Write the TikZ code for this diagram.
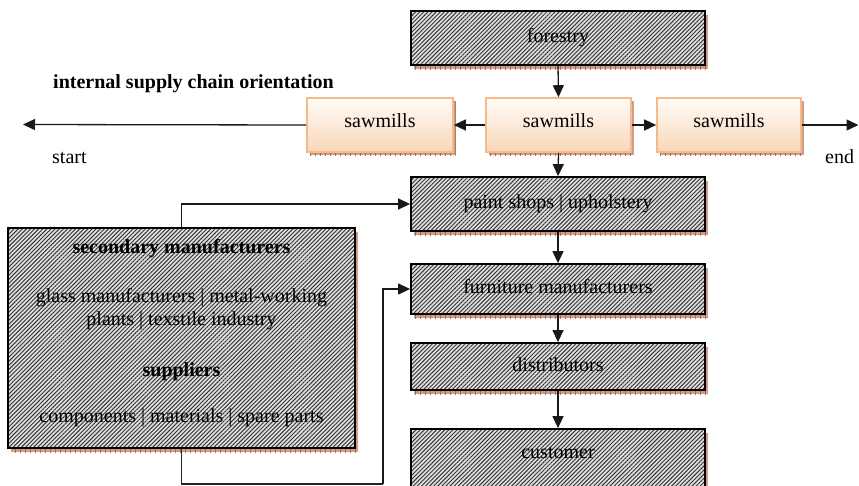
\documentclass[tikz,border=0pt]{standalone}
\usepackage{fontspec}
\setmainfont{Liberation Serif}
\usetikzlibrary{arrows.meta,patterns.meta}

\definecolor{shadowbrown}{RGB}{208,156,136}
\definecolor{tickbrown}{RGB}{165,105,90}
\definecolor{peachtop}{RGB}{255,252,248}
\definecolor{peachbot}{RGB}{249,214,186}
\definecolor{peachline}{RGB}{245,185,138}
\definecolor{hatchbg}{RGB}{224,224,224}

\tikzset{
  txt/.style={font=\fontsize{20}{24}\selectfont},
  boxshadow/.style={
    preaction={fill=shadowbrown, transform canvas={shift={(#1)}}},
    preaction={pattern={Lines[angle=90,distance=5pt,line width=0.6pt]},
               pattern color=tickbrown, transform canvas={shift={(#1)}}}},
  % text height is fixed; each box sets the depth that places its baseline
  hatchbox/.style={draw=black, line width=1.8pt, inner sep=0pt, txt,
    boxshadow={3pt,-4pt}, preaction={fill=hatchbg},
    pattern={Lines[angle=45,distance=2.9pt,line width=0.95pt]},
    pattern color=black!80, text height=14pt},
  sawbox/.style={draw=peachline, line width=1.6pt, inner sep=0pt, txt,
    boxshadow={2.5pt,-3pt}, top color=peachtop, bottom color=peachbot,
    minimum height=54pt, text height=14pt, text depth=10pt},
  flow/.style={draw=black!90, line width=1.3pt,
    -{Triangle[length=12pt,width=11pt]}},
  link/.style={draw=black!85, line width=1.2pt},
  label/.style={txt, inner sep=0pt, anchor=base},
}

\begin{document}
\begin{tikzpicture}[x=1pt,y=-1pt]
  \useasboundingbox (0,0) rectangle (859,485);
  \clip (0,0) rectangle (859,485);

  % main chain
  \node[hatchbox, minimum width=294pt, minimum height=54pt, text depth=4.5pt] (forestry) at (558,38) {forestry};
  \node[sawbox, minimum width=146pt] (sawL) at (380,125) {sawmills};
  \node[sawbox, minimum width=145pt] (sawM) at (558.5,125) {sawmills};
  \node[sawbox, minimum width=144pt] (sawR) at (729,125) {sawmills};
  \node[hatchbox, minimum width=294pt, minimum height=54pt, text depth=5pt] (paint) at (558,204) {paint shops | upholstery};
  \node[hatchbox, minimum width=294pt, minimum height=50pt, text depth=6pt] (furn) at (558,289) {furniture manufacturers};
  \node[hatchbox, minimum width=294pt, minimum height=47pt, text depth=5pt] (dist) at (558,366.5) {distributors};
  \node[hatchbox, minimum width=294pt, minimum height=64pt, text depth=20pt] (cust) at (558,461) {customer};

  % secondary manufacturers and suppliers
  \node[hatchbox, minimum width=347pt, minimum height=220pt] (sec) at (181.5,338) {};
  \node[label, font=\fontsize{20}{24}\selectfont\bfseries] (secTitle) at (181.5,253) {secondary manufacturers};
  \node[label] (secLineA) at (181.5,302) {glass manufacturers | metal-working};
  \node[label] (secLineB) at (181.5,325) {plants | texstile industry};
  \node[label, font=\fontsize{20}{24}\selectfont\bfseries] (supTitle) at (181.5,376) {suppliers};
  \node[label] (supLine) at (181.5,422) {components | materials | spare parts};

  % orientation axis
  \node[label, anchor=base west, font=\fontsize{20}{24}\selectfont\bfseries] (orient) at (53,88) {internal supply chain orientation};
  \node[label, anchor=base west] (start) at (52,163) {start};
  \node[label, anchor=base west] (end) at (825,163) {end};
  \coordinate (axisL) at (23,124.5);
  \coordinate (axisR) at (858.5,125);

  % connectors
  \draw[flow] (forestry.south) -- (sawM.north);
  \draw[flow] (sawM.west) -- (sawL.east);
  \draw[flow] (sawM.east) -- (sawR.west);
  \draw[flow] (sawL.west) -- (axisL);
  \draw[flow] (sawR.east) -- (axisR);
  \draw[flow] (sawM.south) -- (paint.north);
  \draw[flow] (paint.south) -- (furn.north);
  \draw[flow] (furn.south) -- (dist.north);
  \draw[flow] (dist.south) -- (cust.north);

  \coordinate (lowL) at (181.5,484);
  \coordinate (lowR) at (383,484);
  \draw[flow] (sec.north) |- (paint.west);
  \draw[link] (sec.south) -- (lowL) -- (lowR);
  \draw[flow] (lowR) |- (furn.west);
\end{tikzpicture}
\end{document}
